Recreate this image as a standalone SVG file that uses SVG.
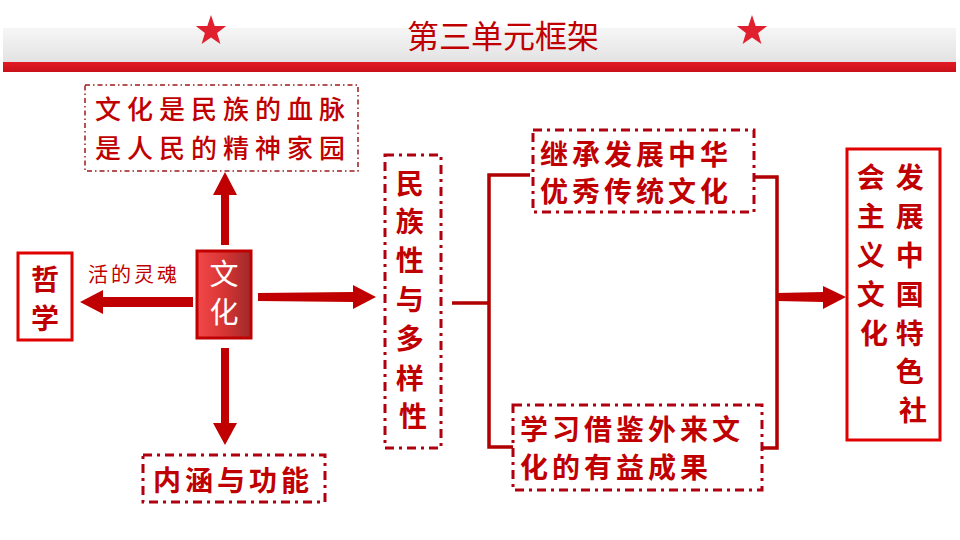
<svg xmlns="http://www.w3.org/2000/svg" width="960" height="540" viewBox="0 0 960 540">
<defs>
<linearGradient id="band" x1="0" y1="0" x2="0" y2="1">
<stop offset="0" stop-color="#F6F6F6"/>
<stop offset="1" stop-color="#E2E2E2"/>
</linearGradient>
<linearGradient id="redbar" x1="0" y1="0" x2="0" y2="1">
<stop offset="0" stop-color="#E31B23"/>
<stop offset="1" stop-color="#C8101A"/>
</linearGradient>
<linearGradient id="wenhua" x1="0" y1="0" x2="1" y2="0">
<stop offset="0" stop-color="#F24848"/>
<stop offset="0.5" stop-color="#D83434"/>
<stop offset="1" stop-color="#9E2A2A"/>
</linearGradient>
<polygon id="star" points="0,-16 3.7,-5.1 15.2,-4.9 6.1,1.9 9.4,12.9 0,6.4 -9.4,12.9 -6.1,1.9 -15.2,-4.9 -3.7,-5.1"/>
</defs>
<style>
.t{font-family:"Noto Sans CJK SC","Noto Sans",sans-serif;fill:#C00000;}
.b{font-weight:bold;font-size:28px;}
.dash{fill:none;stroke:#B00010;stroke-width:3;stroke-dasharray:9 5 3 5;}
.thin{fill:none;stroke:#9B1B1B;stroke-width:1.5;stroke-dasharray:5 3 1.5 3;}
.solid{fill:#FFFFFF;stroke:#E00000;stroke-width:3;}
.line{fill:none;stroke:#B00000;stroke-width:3.5;}
.arr{fill:#C00000;}
</style>
<rect width="960" height="540" fill="#FFFFFF"/>
<g id="header">
<rect x="3" y="28" width="953" height="35" fill="url(#band)"/>
<rect x="3" y="62" width="953" height="10" fill="url(#redbar)"/>
<use href="#star" x="211" y="31" fill="#E0202E"/>
<use href="#star" x="752" y="31" fill="#E0202E"/>
<text class="t" x="503" y="48" font-size="32" text-anchor="middle">第三单元框架</text>
</g>
<g id="connectors">
<polygon class="arr" points="221,245 221,195 213,195 225,172 237,195 229,195 229,245"/>
<polygon class="arr" points="221,348 221,423 213,423 225,445 237,423 229,423 229,348"/>
<polygon class="arr" points="258,293 353,292 353,285 376,297 353,309 353,302 258,301"/>
<polygon class="arr" points="193,297 103,297 103,290 80,302 103,314 103,307 193,307"/>
<polygon class="arr" points="777,293 823,292 823,286 846,297 823,309 823,302 777,301"/>
<path class="line" d="M452 303 H489 M530 175 H489 V447 H513"/>
<path class="line" d="M754 177 H777 V448 H762"/>
<text class="t" x="88" y="282" font-size="20" letter-spacing="3">活的灵魂</text>
</g>
<g id="node-xueMai">
<rect class="thin" x="85" y="85" width="273" height="86"/>
<text class="t" x="95" y="119" font-size="26" letter-spacing="6" font-weight="500">文化是民族的血脉</text>
<text class="t" x="95" y="158" font-size="26" letter-spacing="6" font-weight="500">是人民的精神家园</text>
</g>
<g id="node-wenhua">
<rect x="197" y="251" width="54" height="87" fill="url(#wenhua)" stroke="#C00000" stroke-width="3"/>
<text class="t" x="224" y="285" font-size="29" text-anchor="middle" style="fill:#FFFFFF">文</text>
<text class="t" x="224" y="323" font-size="29" text-anchor="middle" style="fill:#FFFFFF">化</text>
</g>
<g id="node-zhexue">
<rect class="solid" x="18" y="253" width="54" height="87"/>
<text class="t b" x="45" y="290" text-anchor="middle" font-size="29">哲</text>
<text class="t b" x="45" y="329" text-anchor="middle" font-size="29">学</text>
</g>
<g id="node-neihan">
<rect class="dash" x="143" y="455" width="182" height="47"/>
<text class="t b" x="233" y="491" text-anchor="middle" letter-spacing="4">内涵与功能</text>
</g>
<g id="node-minzu">
<rect class="dash" x="385" y="155" width="56" height="293"/>
<text class="t b" text-anchor="middle">
<tspan x="413" y="194">民</tspan>
<tspan x="413" y="232">族</tspan>
<tspan x="413" y="271">性</tspan>
<tspan x="413" y="310">与</tspan>
<tspan x="413" y="349">多</tspan>
<tspan x="413" y="389">样</tspan>
<tspan x="413" y="427">性</tspan>
</text>
</g>
<g id="node-jicheng">
<rect class="dash" x="533" y="130" width="221" height="82"/>
<text class="t b" x="540" y="165" letter-spacing="4">继承发展中华</text>
<text class="t b" x="540" y="202" letter-spacing="4">优秀传统文化</text>
</g>
<g id="node-jiejian">
<rect class="dash" x="513" y="405" width="249" height="85"/>
<text class="t b" x="520" y="440" letter-spacing="4">学习借鉴外来文</text>
<text class="t b" x="520" y="478" letter-spacing="4">化的有益成果</text>
</g>
<g id="node-tese">
<rect class="solid" x="847" y="149" width="93" height="291"/>
<text class="t b" text-anchor="middle">
<tspan x="913" y="188">发</tspan>
<tspan x="913" y="227">展</tspan>
<tspan x="913" y="266">中</tspan>
<tspan x="913" y="305">国</tspan>
<tspan x="913" y="344">特</tspan>
<tspan x="913" y="382">色</tspan>
<tspan x="913" y="421">社</tspan>
</text>
<text class="t b" text-anchor="middle">
<tspan x="874" y="188">会</tspan>
<tspan x="874" y="227">主</tspan>
<tspan x="874" y="266">义</tspan>
<tspan x="874" y="305">文</tspan>
<tspan x="874" y="344">化</tspan>
</text>
</g>
</svg>
